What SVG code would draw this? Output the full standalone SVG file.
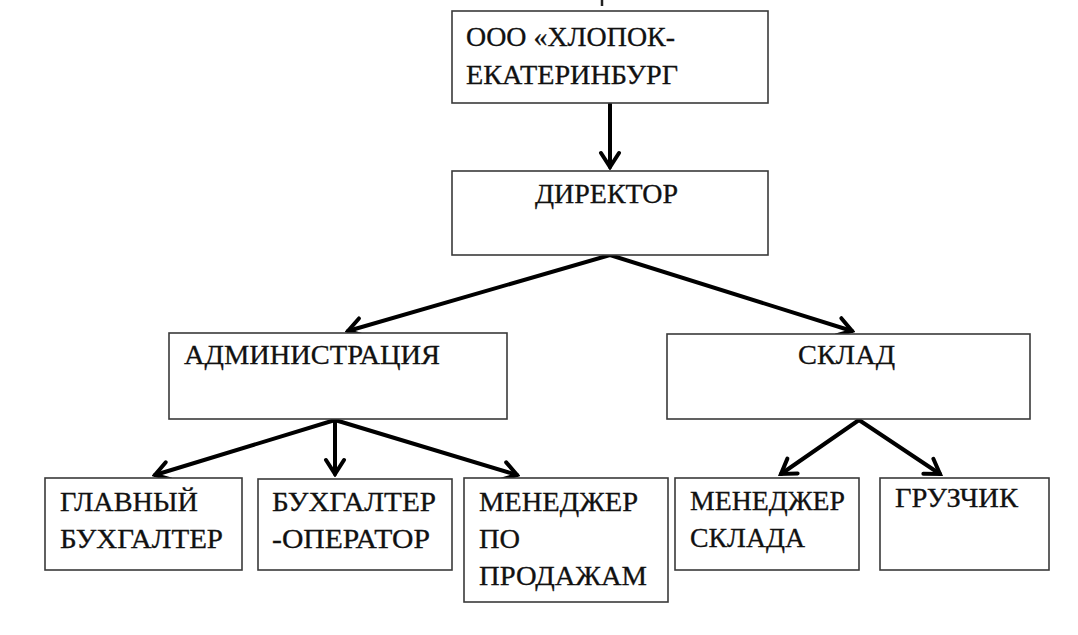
<svg xmlns="http://www.w3.org/2000/svg" width="1078" height="635" viewBox="0 0 1078 635">
<defs>
<style>
.box{fill:#fff;stroke:#3a3a3a;stroke-width:1.6}
.t{font-family:"Liberation Serif","Times New Roman","DejaVu Serif",serif;font-size:27px;fill:#111;stroke:#111;stroke-width:0.3}
.c{stroke:#000;stroke-width:4;fill:none;stroke-linecap:round}
</style>
<marker id="ah" markerUnits="userSpaceOnUse" viewBox="-17 -12 20 24" refX="0" refY="0" markerWidth="20" markerHeight="24" orient="auto">
<path d="M-14,-9 L0,0 L-14,9" fill="none" stroke="#000" stroke-width="4" stroke-linejoin="miter" stroke-linecap="round"/>
</marker>
</defs>
<rect width="1078" height="635" fill="#fff"/>
<line x1="602" y1="0" x2="602" y2="6" stroke="#222" stroke-width="2.5"/>
<g id="connectors">
<line class="c" x1="610" y1="104" x2="610" y2="167" marker-end="url(#ah)"/>
<line class="c" x1="610" y1="255" x2="348" y2="331" marker-end="url(#ah)"/>
<line class="c" x1="610" y1="255" x2="852" y2="331" marker-end="url(#ah)"/>
<line class="c" x1="335" y1="420" x2="155" y2="475" marker-end="url(#ah)"/>
<line class="c" x1="335" y1="420" x2="335" y2="474" marker-end="url(#ah)"/>
<line class="c" x1="335" y1="420" x2="517" y2="475" marker-end="url(#ah)"/>
<line class="c" x1="859" y1="420" x2="781" y2="474" marker-end="url(#ah)"/>
<line class="c" x1="859" y1="420" x2="940" y2="474" marker-end="url(#ah)"/>
</g>
<g id="node-ooo">
<rect class="box" x="452" y="11" width="316" height="92"/>
<text class="t" x="466" y="46" textLength="209" lengthAdjust="spacingAndGlyphs">ООО «ХЛОПОК-</text>
<text class="t" x="466" y="84" textLength="212" lengthAdjust="spacingAndGlyphs">ЕКАТЕРИНБУРГ</text>
</g>
<g id="node-director">
<rect class="box" x="452" y="171" width="316" height="84"/>
<text class="t" x="535" y="203" textLength="143" lengthAdjust="spacingAndGlyphs">ДИРЕКТОР</text>
</g>
<g id="node-admin">
<rect class="box" x="169" y="333" width="338" height="86"/>
<text class="t" x="184" y="364" textLength="256" lengthAdjust="spacingAndGlyphs">АДМИНИСТРАЦИЯ</text>
</g>
<g id="node-sklad">
<rect class="box" x="667" y="334" width="363" height="85"/>
<text class="t" x="798" y="364" textLength="97" lengthAdjust="spacingAndGlyphs">СКЛАД</text>
</g>
<g id="node-glavbuh">
<rect class="box" x="45" y="478" width="197" height="92"/>
<text class="t" x="60" y="511" textLength="138" lengthAdjust="spacingAndGlyphs">ГЛАВНЫЙ</text>
<text class="t" x="60" y="548" textLength="163" lengthAdjust="spacingAndGlyphs">БУХГАЛТЕР</text>
</g>
<g id="node-buhoper">
<rect class="box" x="258" y="479" width="194" height="91"/>
<text class="t" x="272" y="511" textLength="164" lengthAdjust="spacingAndGlyphs">БУХГАЛТЕР</text>
<text class="t" x="272" y="548" textLength="158" lengthAdjust="spacingAndGlyphs">-ОПЕРАТОР</text>
</g>
<g id="node-sales">
<rect class="box" x="464" y="478" width="204" height="124"/>
<text class="t" x="479" y="511" textLength="159" lengthAdjust="spacingAndGlyphs">МЕНЕДЖЕР</text>
<text class="t" x="479" y="548" textLength="41" lengthAdjust="spacingAndGlyphs">ПО</text>
<text class="t" x="479" y="585" textLength="168" lengthAdjust="spacingAndGlyphs">ПРОДАЖАМ</text>
</g>
<g id="node-skladman">
<rect class="box" x="675" y="478" width="184" height="92"/>
<text class="t" x="690" y="510" textLength="155" lengthAdjust="spacingAndGlyphs">МЕНЕДЖЕР</text>
<text class="t" x="690" y="547" textLength="115" lengthAdjust="spacingAndGlyphs">СКЛАДА</text>
</g>
<g id="node-gruzchik">
<rect class="box" x="880" y="478" width="169" height="92"/>
<text class="t" x="895" y="507" textLength="123" lengthAdjust="spacingAndGlyphs">ГРУЗЧИК</text>
</g>
</svg>
